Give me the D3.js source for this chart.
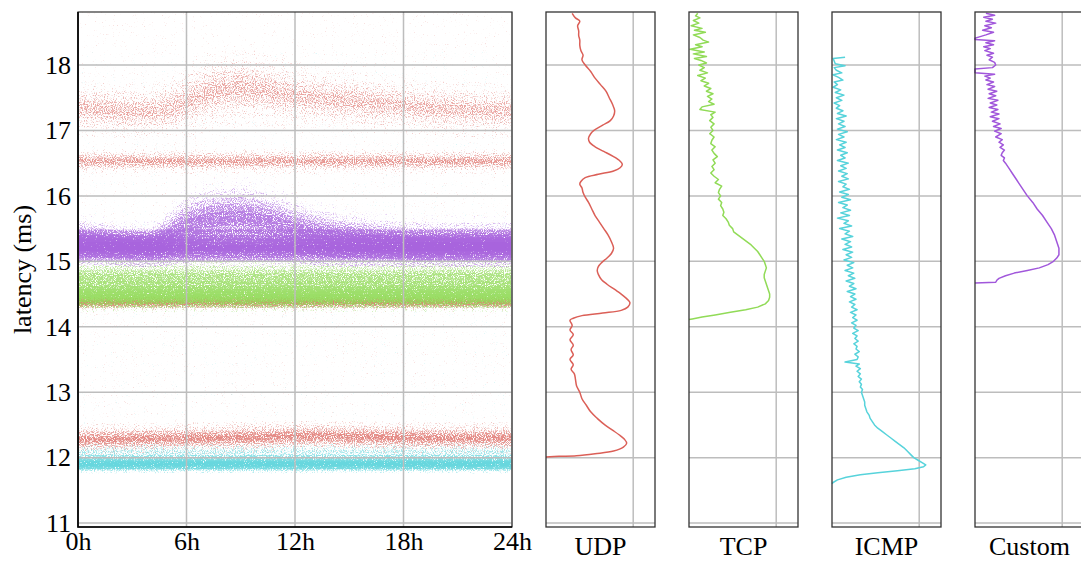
<!DOCTYPE html>
<html>
<head>
<meta charset="utf-8">
<script src="https://cdn.jsdelivr.net/npm/d3@7/dist/d3.min.js"></script>
<style>
  body { margin: 0; background: #fff; }
  text { font-family: "Liberation Serif", "DejaVu Serif", serif; fill: #000; }
</style>
</head>
<body>
<svg width="1081" height="562"></svg>
<script>
// ---- data ----
const hours = [0,1,2,3,4,5,6,7,8,9,10,11,12,13,14,15,16,17,18,19,20,21,22,23,24];
const hourTicks = [0, 6, 12, 18, 24];
const hourLabels = ["0h", "6h", "12h", "18h", "24h"];
const latencyTicks = [11, 12, 13, 14, 15, 16, 17, 18];
const protocols = ["UDP", "TCP", "ICMP", "Custom"];
const colors = ["#db5f57", "#91db57", "#57d3db", "#a157db"];

// scatter bands per protocol: centre latency per hour, spread (ms), share of points
const udpBands = [
  { center: [17.34,17.33,17.31,17.29,17.29,17.34,17.44,17.56,17.62,17.65,17.63,17.58,17.53,17.5,17.47,17.45,17.42,17.4,17.38,17.35,17.33,17.32,17.31,17.3,17.3],
    spread: [0.18,0.18,0.18,0.18,0.18,0.2,0.23,0.25,0.25,0.25,0.24,0.23,0.22,0.21,0.2,0.2,0.19,0.19,0.18,0.18,0.18,0.18,0.18,0.18,0.18], weight: 0.3 },
  { center: 16.53, spread: 0.08, weight: 0.38 },
  { center: 14.37, spread: 0.05, weight: 0.6 },
  { center: [12.28,12.28,12.28,12.29,12.29,12.29,12.3,12.3,12.3,12.31,12.31,12.32,12.33,12.33,12.33,12.32,12.32,12.31,12.31,12.3,12.3,12.3,12.3,12.3,12.3],
    spread: 0.1, weight: 0.46 }
];
const tcpBands = [
  { center: 14.46, spread: 0.1, weight: 0.95 },
  { center: 14.76, spread: 0.14, weight: 0.55 }
];
const icmpBands = [
  { center: 11.9, spread: 0.06, weight: 1.0 },
  { center: 12.09, spread: 0.07, weight: 0.3 }
];
const customBands = [
  { center: 15.2, spread: 0.12, weight: 0.85 },
  { center: [15.35,15.33,15.3,15.28,15.27,15.4,15.55,15.62,15.65,15.66,15.63,15.58,15.5,15.45,15.4,15.37,15.35,15.33,15.32,15.3,15.3,15.3,15.3,15.3,15.3],
    spread: [0.16,0.16,0.15,0.15,0.15,0.19,0.24,0.26,0.27,0.27,0.26,0.24,0.22,0.21,0.2,0.19,0.18,0.17,0.17,0.17,0.17,0.17,0.17,0.17,0.17], weight: 0.6 }
];
// sparse background points [low, high, share]
const udpFloor = [12.0, 18.81, 0.15];
const icmpFloor = [12.0, 18.2, 0.12];

// latency distributions: [latency ms, density share of panel width]
const udpDensity = [[18.79,0.24],[18.72,0.27],[18.67,0.31],[18.6,0.29],[18.52,0.30],[18.45,0.30],[18.38,0.31],[18.3,0.31],[18.22,0.32],[18.15,0.34],[18.08,0.33],[18.0,0.36],[17.9,0.41],[17.8,0.45],[17.7,0.50],[17.6,0.55],[17.5,0.58],[17.4,0.61],[17.3,0.63],[17.22,0.62],[17.15,0.59],[17.08,0.52],[17.0,0.44],[16.95,0.41],[16.88,0.39],[16.82,0.40],[16.75,0.45],[16.68,0.53],[16.6,0.62],[16.53,0.68],[16.48,0.70],[16.43,0.68],[16.38,0.62],[16.33,0.48],[16.28,0.36],[16.22,0.32],[16.18,0.31],[16.12,0.33],[16.05,0.34],[15.98,0.36],[15.9,0.39],[15.8,0.42],[15.7,0.45],[15.6,0.49],[15.5,0.53],[15.4,0.57],[15.3,0.60],[15.2,0.62],[15.12,0.60],[15.05,0.56],[14.98,0.51],[14.92,0.48],[14.86,0.47],[14.8,0.48],[14.72,0.51],[14.65,0.56],[14.57,0.63],[14.5,0.69],[14.43,0.74],[14.37,0.77],[14.3,0.75],[14.25,0.69],[14.21,0.52],[14.17,0.33],[14.13,0.25],[14.1,0.22],[14.02,0.24],[13.95,0.22],[13.88,0.25],[13.8,0.22],[13.72,0.25],[13.65,0.23],[13.57,0.25],[13.5,0.22],[13.42,0.25],[13.35,0.23],[13.28,0.26],[13.2,0.27],[13.1,0.28],[13.0,0.31],[12.9,0.33],[12.8,0.37],[12.7,0.41],[12.6,0.47],[12.5,0.54],[12.42,0.61],[12.35,0.67],[12.28,0.72],[12.22,0.74],[12.16,0.71],[12.1,0.62],[12.06,0.45],[12.03,0.28],[12.02,0.12],[12.01,0]];
const tcpDensity = [[18.79,0.08],[18.75,0.06],[18.72,0.10],[18.68,0.04],[18.64,0.09],[18.6,0.02],[18.56,0.12],[18.53,0.05],[18.5,0.15],[18.46,0.04],[18.42,0.10],[18.38,0.13],[18.35,0.18],[18.31,0.06],[18.28,0.12],[18.24,0.01],[18.2,0.14],[18.17,0.04],[18.13,0.16],[18.1,0.05],[18.07,0.11],[18.03,0.16],[18.0,0.09],[17.96,0.14],[17.92,0.10],[17.88,0.17],[17.84,0.08],[17.8,0.15],[17.76,0.11],[17.72,0.18],[17.68,0.14],[17.64,0.20],[17.6,0.16],[17.56,0.22],[17.52,0.17],[17.48,0.21],[17.44,0.18],[17.4,0.23],[17.36,0.12],[17.32,0.10],[17.28,0.24],[17.24,0.20],[17.2,0.22],[17.15,0.19],[17.1,0.23],[17.05,0.20],[17.0,0.22],[16.95,0.19],[16.9,0.23],[16.85,0.21],[16.8,0.20],[16.75,0.24],[16.7,0.21],[16.65,0.23],[16.6,0.26],[16.55,0.22],[16.5,0.24],[16.45,0.21],[16.4,0.23],[16.35,0.20],[16.3,0.23],[16.25,0.27],[16.2,0.24],[16.15,0.30],[16.1,0.28],[16.05,0.27],[16.0,0.29],[15.95,0.27],[15.9,0.30],[15.85,0.29],[15.8,0.31],[15.75,0.32],[15.7,0.31],[15.65,0.34],[15.6,0.36],[15.55,0.37],[15.5,0.40],[15.45,0.41],[15.4,0.45],[15.35,0.49],[15.3,0.53],[15.25,0.57],[15.2,0.60],[15.15,0.63],[15.1,0.65],[15.05,0.67],[15.0,0.69],[14.95,0.70],[14.9,0.71],[14.85,0.70],[14.8,0.69],[14.75,0.69],[14.7,0.70],[14.65,0.71],[14.6,0.72],[14.55,0.73],[14.5,0.74],[14.45,0.74],[14.4,0.73],[14.35,0.70],[14.3,0.63],[14.26,0.52],[14.22,0.38],[14.18,0.24],[14.15,0.12],[14.12,0.03],[14.11,0]];
const icmpDensity = [[18.12,0.12],[18.1,0.01],[18.06,0.02],[18.02,0.03],[17.99,0.12],[17.96,0.02],[17.92,0.04],[17.88,0.09],[17.85,0.01],[17.81,0.06],[17.77,0.10],[17.74,0.02],[17.7,0.05],[17.66,0.01],[17.62,0.08],[17.58,0.03],[17.54,0.11],[17.5,0.04],[17.46,0.09],[17.42,0.02],[17.38,0.07],[17.34,0.04],[17.3,0.10],[17.26,0.05],[17.22,0.13],[17.18,0.04],[17.14,0.11],[17.1,0.06],[17.06,0.12],[17.02,0.05],[16.98,0.14],[16.94,0.06],[16.9,0.11],[16.86,0.04],[16.82,0.13],[16.78,0.07],[16.74,0.12],[16.7,0.05],[16.66,0.14],[16.62,0.08],[16.58,0.12],[16.54,0.05],[16.5,0.15],[16.46,0.08],[16.42,0.13],[16.38,0.06],[16.34,0.14],[16.3,0.09],[16.26,0.15],[16.22,0.06],[16.18,0.13],[16.14,0.10],[16.1,0.16],[16.06,0.07],[16.02,0.15],[15.98,0.09],[15.94,0.17],[15.9,0.06],[15.86,0.14],[15.82,0.10],[15.78,0.17],[15.74,0.08],[15.7,0.16],[15.66,0.05],[15.62,0.15],[15.58,0.11],[15.54,0.18],[15.5,0.07],[15.46,0.16],[15.42,0.12],[15.38,0.19],[15.34,0.09],[15.3,0.17],[15.26,0.12],[15.22,0.18],[15.18,0.10],[15.14,0.19],[15.1,0.13],[15.06,0.18],[15.02,0.11],[14.98,0.20],[14.94,0.14],[14.9,0.19],[14.86,0.12],[14.82,0.20],[14.78,0.15],[14.74,0.21],[14.7,0.13],[14.66,0.20],[14.62,0.16],[14.58,0.22],[14.54,0.14],[14.5,0.21],[14.46,0.17],[14.42,0.22],[14.38,0.16],[14.34,0.21],[14.3,0.18],[14.26,0.23],[14.22,0.17],[14.18,0.22],[14.14,0.19],[14.1,0.23],[14.06,0.18],[14.02,0.22],[13.98,0.20],[13.94,0.24],[13.9,0.19],[13.86,0.23],[13.82,0.21],[13.78,0.24],[13.74,0.20],[13.7,0.23],[13.66,0.22],[13.62,0.25],[13.58,0.21],[13.54,0.24],[13.5,0.23],[13.46,0.12],[13.43,0.25],[13.4,0.22],[13.36,0.26],[13.32,0.23],[13.28,0.26],[13.24,0.24],[13.2,0.27],[13.16,0.25],[13.12,0.27],[13.08,0.26],[13.04,0.28],[13.0,0.27],[12.95,0.28],[12.9,0.29],[12.85,0.30],[12.8,0.30],[12.75,0.31],[12.7,0.32],[12.65,0.34],[12.6,0.35],[12.55,0.37],[12.5,0.39],[12.45,0.42],[12.4,0.46],[12.35,0.50],[12.3,0.54],[12.25,0.58],[12.2,0.62],[12.15,0.66],[12.1,0.69],[12.05,0.72],[12.0,0.75],[11.96,0.79],[11.92,0.83],[11.89,0.86],[11.86,0.84],[11.83,0.76],[11.8,0.60],[11.77,0.42],[11.74,0.26],[11.7,0.13],[11.66,0.05],[11.62,0.01],[11.6,0]];
const customDensity = [[18.79,0.10],[18.76,0.18],[18.73,0.08],[18.7,0.16],[18.67,0.10],[18.64,0.19],[18.6,0.09],[18.57,0.15],[18.53,0.07],[18.5,0.17],[18.46,0.10],[18.43,0.04],[18.41,0.0],[18.39,0.0],[18.37,0.18],[18.34,0.10],[18.31,0.17],[18.28,0.08],[18.25,0.14],[18.22,0.09],[18.18,0.17],[18.15,0.11],[18.12,0.16],[18.08,0.13],[18.04,0.18],[18.0,0.19],[17.96,0.16],[17.94,0.0],[17.88,0.0],[17.86,0.18],[17.83,0.09],[17.8,0.14],[17.77,0.10],[17.74,0.17],[17.7,0.11],[17.67,0.18],[17.63,0.12],[17.6,0.20],[17.56,0.13],[17.53,0.19],[17.49,0.12],[17.46,0.21],[17.42,0.14],[17.39,0.20],[17.35,0.13],[17.32,0.21],[17.28,0.15],[17.25,0.22],[17.21,0.14],[17.18,0.22],[17.14,0.16],[17.1,0.23],[17.06,0.17],[17.03,0.24],[16.99,0.18],[16.95,0.24],[16.9,0.19],[16.86,0.25],[16.82,0.22],[16.78,0.26],[16.74,0.23],[16.7,0.27],[16.66,0.25],[16.62,0.24],[16.58,0.27],[16.54,0.26],[16.5,0.28],[16.45,0.30],[16.4,0.32],[16.35,0.34],[16.3,0.36],[16.25,0.38],[16.2,0.40],[16.15,0.42],[16.1,0.44],[16.05,0.46],[16.0,0.48],[15.9,0.53],[15.8,0.57],[15.7,0.62],[15.6,0.66],[15.5,0.70],[15.4,0.73],[15.3,0.75],[15.2,0.77],[15.1,0.77],[15.05,0.75],[15.0,0.72],[14.95,0.67],[14.9,0.59],[14.86,0.48],[14.82,0.36],[14.78,0.28],[14.74,0.22],[14.71,0.20],[14.68,0.19],[14.67,0]];

const scatterBands = [udpBands, tcpBands, icmpBands, customBands];
const scatterFloors = [udpFloor, null, icmpFloor, null];
const densities = [udpDensity, tcpDensity, icmpDensity, customDensity];

// ---- layout ----
const svg = d3.select("svg");
const defs = svg.append("defs");
const main = { left: 78, right: 512, top: 12, bottom: 527 };
const panelLefts = [546, 689, 832, 975];
const panelWidth = 109;
const gridColor = "#bdbdbd";
const fontSize = 26;

const y = d3.scaleLinear().domain([10.94, 18.81]).range([main.bottom, main.top]);
const x = d3.scaleLinear().domain([0, 24]).range([main.left, main.right]);

defs.append("clipPath").attr("id", "clip-main")
  .append("rect").attr("x", main.left).attr("y", main.top)
  .attr("width", main.right - main.left).attr("height", main.bottom - main.top);

// grainy fill: turns band opacity into a speckle of dots
function grainFilter(id, color, seed) {
  const K = 4, S = 1.3, T = 0.4;
  const f = defs.append("filter").attr("id", id)
    .attr("filterUnits", "userSpaceOnUse")
    .attr("x", main.left).attr("y", main.top)
    .attr("width", main.right - main.left).attr("height", main.bottom - main.top)
    .attr("color-interpolation-filters", "sRGB");
  f.append("feTurbulence").attr("type", "fractalNoise").attr("baseFrequency", 0.9)
    .attr("numOctaves", 2).attr("seed", seed).attr("result", "noise");
  f.append("feColorMatrix").attr("in", "noise").attr("type", "matrix")
    .attr("values", "0 0 0 0 0  0 0 0 0 0  0 0 0 0 0  1 0 0 0 0").attr("result", "n");
  f.append("feComposite").attr("in", "SourceAlpha").attr("in2", "n")
    .attr("operator", "arithmetic").attr("k1", 0).attr("k2", K).attr("k3", K * S)
    .attr("k4", -K * (S * 0.5 + T)).attr("result", "mask");
  const ct = f.append("feComponentTransfer").attr("in", "SourceAlpha").attr("result", "level");
  ct.append("feFuncA").attr("type", "table").attr("tableValues", "0 0.2 0.3 0.4 0.5 0.62 0.75 0.86 0.94 1 1");
  f.append("feFlood").attr("flood-color", color).attr("flood-opacity", 0.92).attr("result", "c");
  f.append("feComposite").attr("in", "c").attr("in2", "mask").attr("operator", "in").attr("result", "dots");
  f.append("feComposite").attr("in", "dots").attr("in2", "level").attr("operator", "in");
}

// ---- main scatter panel ----
const scatter = svg.append("g").attr("clip-path", "url(#clip-main)");
const sigmaSteps = [0.4, 0.8, 1.2, 1.7, 2.4];
const perHour = (v, i) => Array.isArray(v) ? v[i] : v;

scatterBands.forEach((bands, p) => {
  grainFilter("grain-" + p, colors[p], 3 + p * 7);
  const g = scatter.append("g").attr("filter", "url(#grain-" + p + ")");
  const floor = scatterFloors[p];
  if (floor) {
    g.append("path")
      .datum(hours)
      .attr("d", d3.area().x(h => x(h)).y0(y(floor[0])).y1(y(floor[1])))
      .attr("fill", "#000").attr("fill-opacity", floor[2]);
  }
  bands.forEach(b => {
    const pts = hours.map((h, i) => ({ h, c: perHour(b.center, i), s: perHour(b.spread, i) }));
    sigmaSteps.forEach(k => {
      g.append("path")
        .datum(pts)
        .attr("d", d3.area()
          .x(d => x(d.h))
          .y0(d => y(d.c - k * d.s))
          .y1(d => y(d.c + k * d.s))
          .curve(d3.curveMonotoneX))
        .attr("fill", "#000")
        .attr("fill-opacity", b.weight * 0.34);
    });
  });
});

// grid on top of points
const mainGrid = svg.append("g").attr("stroke", gridColor).attr("stroke-width", 1.5);
mainGrid.selectAll("line.h").data(latencyTicks).join("line")
  .attr("x1", main.left).attr("x2", main.right)
  .attr("y1", d => y(d)).attr("y2", d => y(d));
mainGrid.selectAll("line.v").data(hourTicks).join("line")
  .attr("x1", d => x(d)).attr("x2", d => x(d))
  .attr("y1", main.top).attr("y2", main.bottom);

svg.append("rect")
  .attr("x", main.left).attr("y", main.top)
  .attr("width", main.right - main.left).attr("height", main.bottom - main.top)
  .attr("fill", "none").attr("stroke", "#333").attr("stroke-width", 1.2);
svg.append("path")
  .attr("d", `M${main.left},${main.top}V${main.bottom}H${main.right}`)
  .attr("fill", "none").attr("stroke", "#000").attr("stroke-width", 1.6);

const yAxis = svg.append("g").attr("transform", `translate(${main.left},0)`)
  .call(d3.axisLeft(y).tickValues(latencyTicks).tickSize(0).tickPadding(7));
const xAxis = svg.append("g").attr("transform", `translate(0,${main.bottom})`)
  .call(d3.axisBottom(x).tickValues(hourTicks).tickFormat((d, i) => hourLabels[i]).tickSize(0).tickPadding(5));
[yAxis, xAxis].forEach(a => {
  a.select(".domain").remove();
  a.selectAll("text").attr("font-family", "Liberation Serif").attr("font-size", fontSize).attr("fill", "#000");
});

svg.append("text")
  .attr("transform", `translate(31,${(main.top + main.bottom) / 2}) rotate(-90)`)
  .attr("text-anchor", "middle")
  .style("font-size", fontSize + "px")
  .text("latency (ms)");

// ---- density panels ----
protocols.forEach((name, p) => {
  const left = panelLefts[p];
  const dx = d3.scaleLinear().domain([0, 1]).range([left, left + panelWidth]);
  const g = svg.append("g");

  const grid = g.append("g").attr("stroke", gridColor).attr("stroke-width", 1.5);
  grid.selectAll("line.h").data(latencyTicks).join("line")
    .attr("x1", left).attr("x2", left + panelWidth)
    .attr("y1", d => y(d)).attr("y2", d => y(d));
  grid.append("line")
    .attr("x1", dx(0.8)).attr("x2", dx(0.8))
    .attr("y1", main.top).attr("y2", main.bottom);

  g.append("path")
    .datum(densities[p])
    .attr("d", d3.line()
      .x(d => dx(d[1]))
      .y(d => y(d[0]))
      .curve(p === 0 ? d3.curveCatmullRom : d3.curveLinear))
    .attr("fill", "none")
    .attr("stroke", colors[p])
    .attr("stroke-width", 1.5)
    .attr("stroke-linejoin", "round");

  g.append("rect")
    .attr("x", left).attr("y", main.top)
    .attr("width", panelWidth).attr("height", main.bottom - main.top)
    .attr("fill", "none").attr("stroke", "#333").attr("stroke-width", 1.3);

  g.append("text")
    .attr("x", left + panelWidth / 2)
    .attr("y", 555)
    .attr("text-anchor", "middle")
    .style("font-size", fontSize + "px")
    .text(name);
});
</script>
</body>
</html>
